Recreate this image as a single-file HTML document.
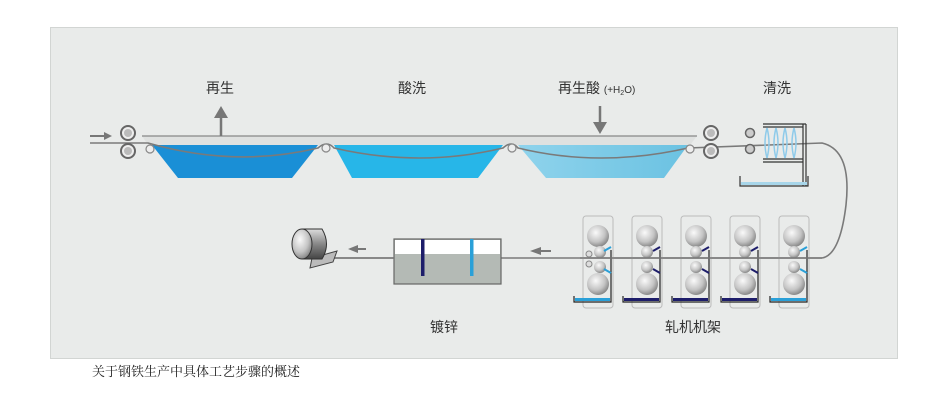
<!DOCTYPE html>
<html><head><meta charset="utf-8"><style>
body{margin:0;background:#fff;width:950px;height:400px;overflow:hidden;font-family:"Liberation Sans","Noto Sans CJK SC",sans-serif}
</style></head><body>
<svg width="950" height="400" viewBox="0 0 950 400" xmlns="http://www.w3.org/2000/svg" style="position:absolute;left:0;top:0">
<defs>
<radialGradient id="rg" cx="0.4" cy="0.35" r="0.7"><stop offset="0" stop-color="#fafafa"/><stop offset="0.6" stop-color="#c4c4c4"/><stop offset="1" stop-color="#7d7d7d"/></radialGradient>
<linearGradient id="t3" x1="0" y1="0" x2="1" y2="0"><stop offset="0" stop-color="#8fd3ec"/><stop offset="1" stop-color="#6bc2e2"/></linearGradient>
<linearGradient id="cg" x1="0" y1="0" x2="0" y2="1"><stop offset="0" stop-color="#ddd"/><stop offset="0.5" stop-color="#888"/><stop offset="1" stop-color="#444"/></linearGradient>
</defs>
<rect x="50.5" y="27.5" width="847" height="331" fill="#e9ebea" stroke="#d2d5d3"/>
<g font-family="Liberation Sans,Noto Sans CJK SC,sans-serif" font-size="14" fill="#333">
<text x="206" y="93">再生</text>
<text x="398" y="93">酸洗</text>
<text x="558" y="93">再生酸 <tspan font-size="10">(+H<tspan font-size="7" dy="2">2</tspan><tspan dy="-2">O)</tspan></tspan></text>
<text x="763" y="93">清洗</text>
<text x="430" y="332">镀锌</text>
<text x="665" y="332">轧机机架</text>
</g>
<text x="92" y="376" font-size="13" fill="#222" font-family="Liberation Serif,Noto Serif CJK SC,serif">关于钢铁生产中具体工艺步骤的概述</text>
<polygon points="142,136 697,136 690,145 148,145" fill="#dfe1e0"/>
<line x1="142" y1="136" x2="697" y2="136" stroke="#888" stroke-width="1.2"/>
<polygon points="152,145 318,145 292,178 178,178" fill="#1a8fd6"/>
<polygon points="334,145 503,145 478,178 352,178" fill="#27b6e8"/>
<polygon points="518,145 688,145 664,178 546,178" fill="url(#t3)"/>
<path d="M90,143 L148,143 Q235,168 318,148 Q327,140 334,148 Q420,168 503,148 Q512,140 518,148 Q600,168 688,148 L822,143 Q852,150 846,205 Q840,255 822,258" fill="none" stroke="#7a7a7a" stroke-width="1.6"/>
<line x1="822" y1="258" x2="330" y2="258" stroke="#7a7a7a" stroke-width="1.6"/>
<g fill="#eee" stroke="#888" stroke-width="1.2">
<circle cx="150" cy="149" r="4"/><circle cx="326" cy="148" r="4"/><circle cx="512" cy="148" r="4"/><circle cx="690" cy="149" r="4"/>
</g>
<g fill="#ccc" stroke="#666" stroke-width="1.5">
<circle cx="750" cy="133" r="4.5"/><circle cx="750" cy="149" r="4.5"/>
</g>
<g fill="#eee" stroke="#666" stroke-width="2">
<circle cx="128" cy="133" r="7"/><circle cx="128" cy="151" r="7"/>
<circle cx="711" cy="133" r="7"/><circle cx="711" cy="151" r="7"/>
</g>
<g fill="#bbb"><circle cx="128" cy="133" r="4"/><circle cx="128" cy="151" r="4"/><circle cx="711" cy="133" r="4"/><circle cx="711" cy="151" r="4"/></g>
<line x1="90" y1="136" x2="104" y2="136" stroke="#777" stroke-width="2"/><polygon points="104,132 112,136 104,140" fill="#777"/>
<line x1="221" y1="136" x2="221" y2="118" stroke="#777" stroke-width="2.5"/><polygon points="214,118 228,118 221,106" fill="#777"/>
<line x1="600" y1="106" x2="600" y2="124" stroke="#777" stroke-width="2.5"/><polygon points="593,122 607,122 600,134" fill="#777"/>
<g stroke="#333" stroke-width="1.2" fill="none">
<line x1="763" y1="124" x2="806" y2="124"/><line x1="763" y1="127" x2="803" y2="127"/>
<line x1="763" y1="159" x2="803" y2="159"/><line x1="763" y1="162" x2="803" y2="162"/>
<line x1="803" y1="124" x2="803" y2="186"/><line x1="806" y1="124" x2="806" y2="186"/>
<path d="M740,176 L740,186 L808,186 L808,176"/>
</g>
<rect x="741" y="182" width="66" height="3" fill="#a8d6ea"/>
<g stroke="#8fcbea" stroke-width="1.5" fill="none">
<path d="M767,128 Q771,143 767,158"/><path d="M767,128 Q763,143 767,158"/>
<path d="M776,128 Q780,143 776,158"/><path d="M776,128 Q772,143 776,158"/>
<path d="M785,128 Q789,143 785,158"/><path d="M785,128 Q781,143 785,158"/>
<path d="M794,128 Q798,143 794,158"/><path d="M794,128 Q790,143 794,158"/>
</g>
<g transform="translate(0,3)">
<g>
<rect x="583" y="213" width="30" height="92" rx="3" fill="none" stroke="#bbb"/>
<circle cx="598" cy="233" r="11" fill="url(#rg)"/><circle cx="598" cy="281" r="11" fill="url(#rg)"/>
<circle cx="600" cy="249" r="6" fill="url(#rg)"/><circle cx="600" cy="264" r="6" fill="url(#rg)"/>
<circle cx="589" cy="251" r="3" fill="#ddd" stroke="#888"/><circle cx="589" cy="261" r="3" fill="#ddd" stroke="#888"/>
<path d="M574,293 L574,299 L611,299 L611,247" fill="none" stroke="#222" stroke-width="1.2"/>
<rect x="575" y="295" width="35" height="3" fill="#2aa0d8"/>
<path d="M604,248 L611,244 M604,266 L611,270" stroke="#2aa0d8" stroke-width="2"/>
</g>
<g transform="translate(49,0)">
<rect x="583" y="213" width="30" height="92" rx="3" fill="none" stroke="#bbb"/>
<circle cx="598" cy="233" r="11" fill="url(#rg)"/><circle cx="598" cy="281" r="11" fill="url(#rg)"/>
<circle cx="598" cy="249" r="6" fill="url(#rg)"/><circle cx="598" cy="264" r="6" fill="url(#rg)"/>
<path d="M574,293 L574,299 L611,299 L611,247" fill="none" stroke="#222" stroke-width="1.2"/>
<rect x="575" y="295" width="35" height="3" fill="#1d1d6a"/>
<path d="M604,248 L611,244 M604,266 L611,270" stroke="#1d1d6a" stroke-width="2"/>
</g>
<g transform="translate(98,0)">
<rect x="583" y="213" width="30" height="92" rx="3" fill="none" stroke="#bbb"/>
<circle cx="598" cy="233" r="11" fill="url(#rg)"/><circle cx="598" cy="281" r="11" fill="url(#rg)"/>
<circle cx="598" cy="249" r="6" fill="url(#rg)"/><circle cx="598" cy="264" r="6" fill="url(#rg)"/>
<path d="M574,293 L574,299 L611,299 L611,247" fill="none" stroke="#222" stroke-width="1.2"/>
<rect x="575" y="295" width="35" height="3" fill="#1d1d6a"/>
<path d="M604,248 L611,244 M604,266 L611,270" stroke="#1d1d6a" stroke-width="2"/>
</g>
<g transform="translate(147,0)">
<rect x="583" y="213" width="30" height="92" rx="3" fill="none" stroke="#bbb"/>
<circle cx="598" cy="233" r="11" fill="url(#rg)"/><circle cx="598" cy="281" r="11" fill="url(#rg)"/>
<circle cx="598" cy="249" r="6" fill="url(#rg)"/><circle cx="598" cy="264" r="6" fill="url(#rg)"/>
<path d="M574,293 L574,299 L611,299 L611,247" fill="none" stroke="#222" stroke-width="1.2"/>
<rect x="575" y="295" width="35" height="3" fill="#1d1d6a"/>
<path d="M604,248 L611,244 M604,266 L611,270" stroke="#1d1d6a" stroke-width="2"/>
</g>
<g transform="translate(196,0)">
<rect x="583" y="213" width="30" height="92" rx="3" fill="none" stroke="#bbb"/>
<circle cx="598" cy="233" r="11" fill="url(#rg)"/><circle cx="598" cy="281" r="11" fill="url(#rg)"/>
<circle cx="598" cy="249" r="6" fill="url(#rg)"/><circle cx="598" cy="264" r="6" fill="url(#rg)"/>
<path d="M574,293 L574,299 L611,299 L611,247" fill="none" stroke="#222" stroke-width="1.2"/>
<rect x="575" y="295" width="35" height="3" fill="#2aa0d8"/>
<path d="M604,248 L611,244 M604,266 L611,270" stroke="#2aa0d8" stroke-width="2"/>
</g>
</g>
<line x1="580" y1="258" x2="822" y2="258" stroke="#7a7a7a" stroke-width="1.6"/>
<line x1="540" y1="251" x2="551" y2="251" stroke="#777" stroke-width="2"/><polygon points="541,247 530,251 541,255" fill="#777"/>
<line x1="357" y1="249" x2="366" y2="249" stroke="#777" stroke-width="2"/><polygon points="358,245 348,249 358,253" fill="#777"/>
<rect x="394" y="239" width="107" height="45" fill="#b4bab5" stroke="#666" stroke-width="1.2"/>
<rect x="395" y="240" width="105" height="14" fill="#fff"/>
<rect x="421" y="239" width="3.5" height="37" fill="#1d1d6a"/>
<rect x="470" y="239" width="3.5" height="37" fill="#2aa0d8"/>
<line x1="330" y1="258" x2="394" y2="258" stroke="#7a7a7a" stroke-width="1.6"/>
<polygon points="312,258 337,251 333,262 310,268" fill="#bbb" stroke="#444"/>
<path d="M302,229 L322,229 Q331,244 322,259 L302,259 Z" fill="url(#cg)" stroke="#333"/>
<ellipse cx="302" cy="244" rx="10" ry="15" fill="url(#rg)" stroke="#333"/>
</svg>
</body></html>
